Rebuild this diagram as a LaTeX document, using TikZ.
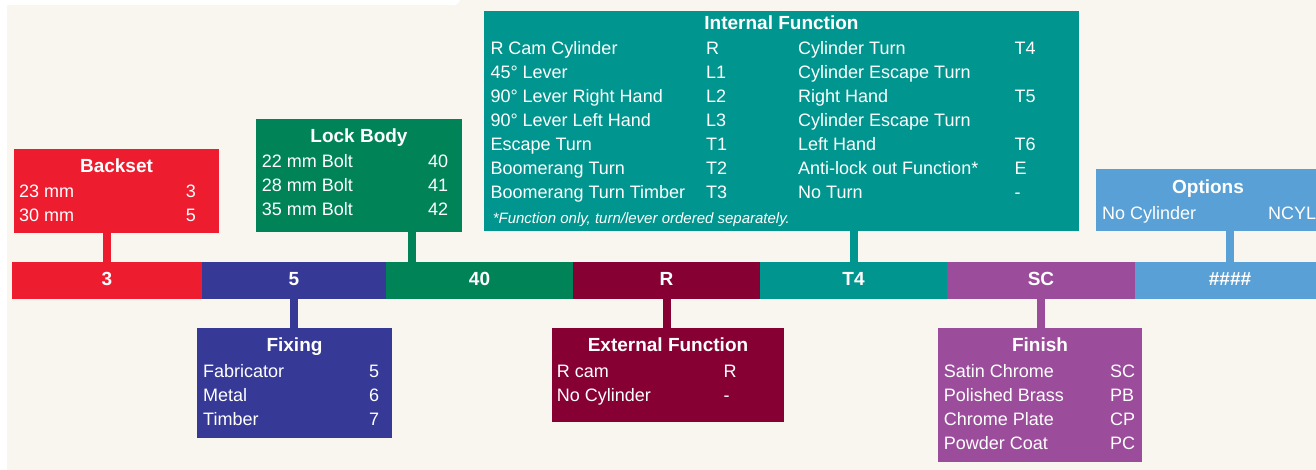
\documentclass[tikz,border=0pt]{standalone}
\usepackage{fontspec}
\setmainfont{Liberation Sans}
\usepackage{xcolor}
\usepackage{tikz}

\definecolor{cream}{RGB}{249,246,239}
\definecolor{bsRed}{RGB}{237,28,46}
\definecolor{fxBlue}{RGB}{54,58,150}
\definecolor{lbGreen}{RGB}{0,132,87}
\definecolor{exMaroon}{RGB}{135,0,52}
\definecolor{inTeal}{RGB}{0,150,143}
\definecolor{fnPurple}{RGB}{155,77,155}
\definecolor{opBlue}{RGB}{88,160,213}

\begin{document}
\begin{tikzpicture}[x=1pt,y=-1pt,
	panel/.style={rectangle,anchor=north west,inner sep=0pt,outer sep=0pt},
	seg/.style={rectangle,anchor=north west,inner sep=0pt,outer sep=0pt,minimum height=37pt,
		text=white,font=\fontsize{19}{19}\selectfont\bfseries,text height=14pt,text depth=3.6pt},
	ttl/.style={anchor=base,inner sep=0pt,text=white,font=\fontsize{19}{19}\selectfont\bfseries},
	row/.style={anchor=base west,inner sep=0pt,text=white,font=\fontsize{18}{18}\selectfont},
	tap/.style={line width=8pt}]
	\useasboundingbox (0,0) rectangle (1316,470);
	\fill[white] (0,0) rectangle (1316,470);
	\fill[cream] (7,0) rectangle (1316,470);
	\fill[white,rounded corners=6pt] (-10,-10) rectangle (460,5);
	
	% code bar
	\node[seg,fill=bsRed,minimum width=190pt] (segBack) at (12,262) {3};
	\node[seg,fill=fxBlue,minimum width=184pt] (segFix) at (202,262) {5};
	\node[seg,fill=lbGreen,minimum width=187pt] (segBody) at (386,262) {40};
	\node[seg,fill=exMaroon,minimum width=187pt] (segExt) at (573,262) {R};
	\node[seg,fill=inTeal,minimum width=187pt] (segInt) at (760,262) {T4};
	\node[seg,fill=fnPurple,minimum width=188pt] (segFin) at (947,262) {SC};
	\node[seg,fill=opBlue,minimum width=190pt] (segOpt) at (1135,262) {\#\#\#\#};
	
	% Backset
	\node[panel,fill=bsRed,minimum width=205pt,minimum height=84pt] (backset) at (14,149) {};
	\node[ttl] (bsT) at (116.5,172.3) {Backset};
	\node[row] (bs1) at (19,197.7) {23 mm};
	\node[row] (bs1v) at (185.7,197.7) {3};
	\node[row] (bs2) at (19,221.7) {30 mm};
	\node[row] (bs2v) at (185.7,221.7) {5};
	\draw[tap,bsRed] (segBack.north) -- (segBack.north |- backset.south);
	
	% Lock Body
	\node[panel,fill=lbGreen,minimum width=206pt,minimum height=113pt] (lockbody) at (256,119) {};
	\node[ttl] (lbT) at (359,142.7) {Lock Body};
	\node[row] (lb1) at (261.7,167.7) {22 mm Bolt};
	\node[row] (lb1v) at (428,167.7) {40};
	\node[row] (lb2) at (261.7,191.7) {28 mm Bolt};
	\node[row] (lb2v) at (428,191.7) {41};
	\node[row] (lb3) at (261.7,215.7) {35 mm Bolt};
	\node[row] (lb3v) at (428,215.7) {42};
	\coordinate (lbTap) at (412,262);
	\draw[tap,lbGreen] (lbTap) -- (lbTap |- lockbody.south);
	
	% Internal Function
	\node[panel,fill=inTeal,minimum width=595pt,minimum height=220pt] (internal) at (484,11) {};
	\node[ttl] (inT) at (781.5,30) {Internal Function};
	\node[row] (in1) at (490.3,55) {R Cam Cylinder};
	\node[row] (in1v) at (706,55) {R};
	\node[row] (in2) at (490.3,79) {45° Lever};
	\node[row] (in2v) at (706,79) {L1};
	\node[row] (in3) at (490.3,103) {90° Lever Right Hand};
	\node[row] (in3v) at (706,103) {L2};
	\node[row] (in4) at (490.3,127) {90° Lever Left Hand};
	\node[row] (in4v) at (706,127) {L3};
	\node[row] (in5) at (490.3,151) {Escape Turn};
	\node[row] (in5v) at (706,151) {T1};
	\node[row] (in6) at (490.3,175) {Boomerang Turn};
	\node[row] (in6v) at (706,175) {T2};
	\node[row] (in7) at (490.3,199) {Boomerang Turn Timber};
	\node[row] (in7v) at (706,199) {T3};
	\node[row] (in8) at (798,55) {Cylinder Turn};
	\node[row] (in8v) at (1014.5,55) {T4};
	\node[row] (in9) at (798,79) {Cylinder Escape Turn};
	\node[row] (in10) at (798,103) {Right Hand};
	\node[row] (in10v) at (1014.5,103) {T5};
	\node[row] (in11) at (798,127) {Cylinder Escape Turn};
	\node[row] (in12) at (798,151) {Left Hand};
	\node[row] (in12v) at (1014.5,151) {T6};
	\node[row] (in13) at (798,175) {Anti-lock out Function*};
	\node[row] (in13v) at (1014.5,175) {E};
	\node[row] (in14) at (798,199) {No Turn};
	\node[row] (in14v) at (1014.5,199) {-};
	\node[row,font=\fontsize{15}{15}\selectfont\itshape] (inNote) at (492.6,223.3) {*Function only, turn/lever ordered separately.};
	\draw[tap,inTeal] (segInt.north) -- (segInt.north |- internal.south);
	
	% Options
	\node[panel,fill=opBlue,minimum width=224pt,minimum height=62pt] (options) at (1096,169) {};
	\node[ttl] (opT) at (1208,193.3) {Options};
	\node[row] (op1) at (1102,219.3) {No Cylinder};
	\node[row] (op1v) at (1268,219.3) {NCYL};
	\draw[tap,opBlue] (segOpt.north) -- (segOpt.north |- options.south);
	
	% Fixing
	\node[panel,fill=fxBlue,minimum width=195pt,minimum height=110pt] (fixing) at (197,328) {};
	\node[ttl] (fxT) at (294.5,351) {Fixing};
	\node[row] (fx1) at (203,377.3) {Fabricator};
	\node[row] (fx1v) at (369,377.3) {5};
	\node[row] (fx2) at (203,401.3) {Metal};
	\node[row] (fx2v) at (369,401.3) {6};
	\node[row] (fx3) at (203,425.3) {Timber};
	\node[row] (fx3v) at (369,425.3) {7};
	\draw[tap,fxBlue] (segFix.south) -- (segFix.south |- fixing.north);
	
	% External Function
	\node[panel,fill=exMaroon,minimum width=232pt,minimum height=94pt] (external) at (552,328) {};
	\node[ttl] (exT) at (668,351) {External Function};
	\node[row] (ex1) at (556.7,377.3) {R cam};
	\node[row] (ex1v) at (723.5,377.3) {R};
	\node[row] (ex2) at (556.7,401.3) {No Cylinder};
	\node[row] (ex2v) at (723.5,401.3) {-};
	\draw[tap,exMaroon] (segExt.south) -- (segExt.south |- external.north);
	
	% Finish
	\node[panel,fill=fnPurple,minimum width=204pt,minimum height=134pt] (finish) at (938,328) {};
	\node[ttl] (fnT) at (1040,351) {Finish};
	\node[row] (fn1) at (943.7,377.3) {Satin Chrome};
	\node[row] (fn1v) at (1110,377.3) {SC};
	\node[row] (fn2) at (943.7,401.3) {Polished Brass};
	\node[row] (fn2v) at (1110,401.3) {PB};
	\node[row] (fn3) at (943.7,425.3) {Chrome Plate};
	\node[row] (fn3v) at (1110,425.3) {CP};
	\node[row] (fn4) at (943.7,449.3) {Powder Coat};
	\node[row] (fn4v) at (1110,449.3) {PC};
	\draw[tap,fnPurple] (segFin.south) -- (segFin.south |- finish.north);
\end{tikzpicture}
\end{document}
